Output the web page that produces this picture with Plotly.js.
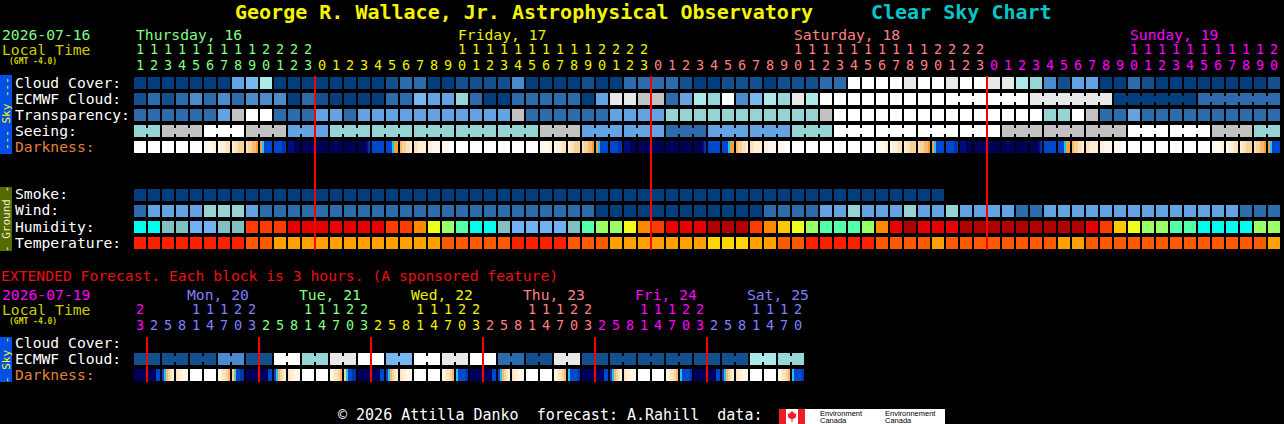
<!DOCTYPE html>
<html><head><meta charset="utf-8">
<script src="https://cdn.plot.ly/plotly-3.0.1.min.js"></script>
<style>html,body{margin:0;padding:0;background:#000;}#chart{width:1284px;height:424px;}</style>
</head><body><div id="chart"></div>
<script>
// ================= DATA =================
const siteTitle = "George R. Wallace, Jr. Astrophysical Observatory";
const chartName = "Clear Sky Chart";
const mainDate = "2026-07-16";
const extDate = "2026-07-19";
const tzLabel = "(GMT -4.0)";
const extNote = "EXTENDED Forecast. Each block is 3 hours. (A sponsored feature)";
const footerText = "\u00a9 2026 Attilla Danko  forecast: A.Rahill  data:";

const mainDays = ["Thursday, 16", "Friday, 17", "Saturday, 18", "Sunday, 19"];
const dayColors = ["#80ff80", "#f0f000", "#ff8080", "#ff00ff", "#8080ff", "#80ff80", "#f0f000", "#ff8080", "#ff00ff", "#8080ff"];
const mainHours = [11,12,13,14,15,16,17,18,19,20,21,22,23,
  0,1,2,3,4,5,6,7,8,9,10,11,12,13,14,15,16,17,18,19,20,21,22,23,
  0,1,2,3,4,5,6,7,8,9,10,11,12,13,14,15,16,17,18,19,20,21,22,23,
  0,1,2,3,4,5,6,7,8,9,10,11,12,13,14,15,16,17,18,19,20];

// cloud cover %, one per hour
const cloudCover = [0,0,0,0,0,0,0,40,50,70,0,0,0,0,0,0,0,0,10,20,20,
  0,0,10,10,10,10,30,0,0,0,0,10,0,0,20,20,20,20,10,0,0,10,10,10,0,10,10,10,20,20,
  100,100,100,100,90,100,100,90,100,100,90,90,70,60,30,10,40,40,0,0,20,10,0,0,0,0,0,0,0,0,10];
// ECMWF cloud %, one per hour
const ecmwfCloud = [10,20,10,20,30,20,30,20,30,30,30,0,20,10,0,0,0,0,20,20,50,
  40,40,60,20,0,0,20,20,20,20,20,0,40,90,90,80,80,20,40,70,60,100,30,50,70,60,90,70,100,100,
  100,100,100,100,100,100,100,100,100,100,100,100,100,90,90,90,90,90,90,0,0,0,0,0,0,20,20,20,20,20,20];
// hours covered by each ECMWF forecast step
const ecmwfRuns = [1,1,1,1,1,1,1,1,1,1,1,1,1,1,1,1,1,1,1,1,1,1,1,1,1,1,1,1,1,1,
  1,1,1,1,1,1,1,1,1,1,1,1,1,1,1,1,1,1,1,1,1,1,1,1,1,1,1,1,3,3,6,6,6];
// transparency: 0 transparent .. 4 poor, 5 too cloudy
const transparency = [1,1,1,1,1,1,2,4,5,5,1,1,1,2,2,1,2,2,2,2,2,
  2,2,2,2,2,2,4,1,1,1,1,1,1,2,2,2,2,3,3,3,3,3,3,3,3,3,3,3,4,5,
  5,5,5,5,5,5,5,5,5,5,5,5,5,5,3,3,5,4,1,1,2,1,1,1,1,1,1,1,1,1,1];
// seeing (5 excellent .. 1 bad, 0 too cloudy), per 3-hour step
const seeing = [2,1,0,1,3,2,2,2,2,2,1,3,3,4,3,3,2,0,0,0,0,1,1,1,0,0,1,2];
const seeingRuns = [2,3,3,3,3,3,3,3,3,3,3,3,3,3,3,3,3,3,3,3,3,3,3,3,3,3,3,2];
// darkness: 6 samples per hour (W day ... N night)
const darkness = [
  "WWWWWW","WWWWWW","WWWWWW","WWWWWW","WWWWWW","aaaaab","abbbcc","bccddd","cddeef","fyBBBB","BBBBCC","nnnNNN","NNNNNN",
  "NNNNNN","NNNNNN","NNNNNN","NNNNnC","BBBBBB","BBByff","eddccb","ccbbbb","bbaaaa","aaaWWW",
  "WWWWWW","WWWWWW","WWWWWW","WWWWWW","WWWWWW","WWWWWW","aaaaab","abbbcc","bccddd","cddeef","fyBBBB","BBBBCC","nnnNNN","NNNNNN",
  "NNNNNN","NNNNNN","NNNNNN","NNNNnC","BBBBBB","BBByff","eddccb","ccbbbb","bbaaaa","aaaWWW",
  "WWWWWW","WWWWWW","WWWWWW","WWWWWW","WWWWWW","WWWWWW","aaaaab","abbbcc","bccddd","cddeef","fyBBBB","BBBBCC","nnnNNN","NNNNNN",
  "NNNNNN","NNNNNN","NNNNNN","NNNNnC","BBBBBB","BBByff","eddccb","ccbbbb","bbaaaa","aaaWWW",
  "WWWWWW","WWWWWW","WWWWWW","WWWWWW","WWWWWW","WWWWWW","aaaaab","abbbcc","bccddd","cddeef","fyBBBB"];
// smoke (ug/m3), forecast only for the first 58 hours
const smoke = [0,0,0,0,0,0,0,0,0,0,0,0,0,0,0,0,0,0,0,0,0,0,0,0,0,0,0,0,0,0,
  0,0,0,0,0,0,0,0,0,0,0,0,0,0,0,0,0,0,0,0,0,0,0,0,0,0,0,0];
// wind mph
const wind = [8,14,14,14,14,20,20,20,14,8,8,8,8,8,8,8,8,8,8,8,8,8,8,8,8,8,8,8,8,8,8,8,8,
  3,3,3,3,3,3,3,3,3,3,3,3,8,8,8,8,14,14,20,14,14,14,20,14,14,20,14,14,14,14,8,8,
  14,14,14,14,14,14,14,14,14,14,14,14,14,14,8,8,8];
// relative humidity %
const humidity = [42,42,37,37,32,32,37,37,75,75,75,85,85,85,85,85,85,85,75,75,67,
  57,52,47,42,42,37,32,32,32,32,37,47,52,52,57,67,75,85,85,85,95,95,95,75,67,62,57,52,47,47,
  47,52,67,85,95,85,85,85,95,95,95,95,95,95,95,95,95,85,75,62,57,52,52,47,47,42,42,42,42,52,52];
// temperature C
const temperature = [29,29,29,29,29,29,29,29,26,26,23,23,23,23,23,23,23,23,23,23,23,
  23,26,26,26,26,26,29,29,29,29,26,26,26,23,23,23,23,23,23,23,20,20,20,23,23,26,26,29,29,29,
  29,29,26,26,26,26,23,26,26,26,26,26,26,26,26,23,23,26,26,26,26,26,26,26,26,26,26,26,26,26,23];

// extended forecast (3-hour blocks)
const extDays = ["Mon, 20", "Tue, 21", "Wed, 22", "Thu, 23", "Fri, 24", "Sat, 25"];
const extHours = [23, 2,5,8,11,14,17,20,23, 2,5,8,11,14,17,20,23, 2,5,8,11,14,17,20,23,
  2,5,8,11,14,17,20,23, 2,5,8,11,14,17,20,23, 2,5,8,11,14,17,20];
const extDayOffset = 3; // first extended column belongs to Sunday (4th day)
// ECMWF cloud %, per 6-hour step (2 blocks each)
const extEcmwf = [10,10,10,30,10,100,60,90,100,50,100,90,100,20,10,90,10,10,10,10,10,10,70,60];
const extDarkness = ["NNNNNN",
  "NNNNBB","Byedcb","cbbaaa","WWWWWW","WWWWWW","abccde","dgBBCC","NNNNNN",
  "NNNNBB","Byedcb","cbbaaa","WWWWWW","WWWWWW","abccde","dyBBCC","NNNNNN",
  "NNNNBB","Byedcb","cbbaaa","WWWWWW","WWWWWW","abccde","yBBBBC","NNNNNN",
  "NNNNBB","Byedcb","cbbaaa","WWWWWW","WWWWWW","abccde","yBBBBC","NNNNNN",
  "NNNNBB","Byedcb","cbbaaa","WWWWWW","WWWWWW","abccde","yBBBBC","NNNNNN",
  "NNNNBB","Byedcb","cbbaaa","WWWWWW","WWWWWW","abccde","yBBBBC"];

// ================= COLOUR SCALES =================
const cloudPal = {0:'#003e7e',10:'#12508f',20:'#2c6cac',30:'#4b8bcb',40:'#63a3e3',50:'#78b8f0',
  60:'#96d6d6',70:'#abeaea',80:'#c2c2c2',90:'#e8e8e8',100:'#ffffff'};
const transPal = ['#003e7e','#2c6cac','#63a3e3','#96d3d3','#c2c2c2','#ffffff'];
const seeingPal = {5:'#003e7e',4:'#2c6cac',3:'#63a3e3',2:'#96d3d3',1:'#c2c2c2',0:'#ffffff'};
const darkPal = {W:'#ffffff',a:'#fff7ec',b:'#ffeed8',c:'#fde2bc',d:'#fbd09a',e:'#f7b86a',f:'#f0a040',
  y:'#20c4f0',g:'#70c0a0',B:'#0048d0',C:'#0034b0',n:'#000c7c',N:'#00005a'};
function windColor(v){ return v<6?'#003e7e':v<12?'#2c6cac':v<17?'#63a3e3':'#96d3d3'; }
function humColor(v){
  if(v<35) return '#72b2f2'; if(v<40) return '#80c0c0'; if(v<45) return '#00ffee';
  if(v<50) return '#55ffaa'; if(v<55) return '#99ff66'; if(v<60) return '#eeff1a';
  if(v<65) return '#ffc800'; if(v<70) return '#ff8800'; if(v<80) return '#ff3a00';
  if(v<90) return '#e80000'; return '#b00000';
}
function tempColor(v){ return v<21.5?'#ffd700':v<24.5?'#ffa000':v<27.5?'#ff5a00':'#ff2000'; }
function smokeColor(v){ return '#003e7e'; }

// ================= BUILD =================
const W = 1284, H = 424;
const px = x => x / W, py = y => 1 - y / H;
const FONT = 'DejaVu Sans Mono';
const FS = 14.7;   // label font size
const DS = 13.5;   // hour digit font size
const TY = -1;     // vertical text nudge
const NC = mainHours.length, NE = extHours.length;

const palette = [];
function ci(c){ if(c==null) return null; let k = palette.indexOf(c); if(k<0){ palette.push(c); k = palette.length-1; } return k; }

function expand(vals, runs){ const out=[]; runs.forEach((L,g)=>{ for(let k=0;k<L;k++) out.push(vals[g]); }); return out; }
const seeingCols = expand(seeing, seeingRuns);
const ecmwfCols = ecmwfCloud;
const extEcmwfCols = expand(extEcmwf, extEcmwf.map(()=>2));

const skyColors = [cloudCover.map(v=>cloudPal[v]), ecmwfCols.map(v=>cloudPal[v]),
  transparency.map(v=>transPal[v]), seeingCols.map(v=>seeingPal[v])];
const groundColors = [
  Array.from({length:NC},(_,i)=> i<smoke.length ? smokeColor(smoke[i]) : null),
  wind.map(windColor), humidity.map(humColor), temperature.map(tempColor)];
const extColors = [Array(NE).fill(null), extEcmwfCols.map(v=>cloudPal[v]), Array(NE).fill(null)];

const skyZ = skyColors.map(r=>r.map(ci));
const groundZ = groundColors.map(r=>r.map(ci));
const extZ = extColors.map(r=>r.map(ci));

function darkRow(codes){
  const xs=[], zs=[];
  codes.forEach((str,i)=>{
    for(let s=0;s<14;s++){
      xs.push(i-0.5+(s+0.5)/14);
      zs.push((s===0||s===13)?null:ci(darkPal[str[Math.floor((s-1)/2)]]));
    }
  });
  return {xs, zs};
}
const dMain = darkRow(darkness), dExt = darkRow(extDarkness);

const N = palette.length;
const colorscale = [];
palette.forEach((c,k)=>{ colorscale.push([k/N,c]); colorscale.push([(k+1)/N,c]); });

const hmBase = {type:'heatmap', colorscale, zmin:-0.5, zmax:N-0.5, showscale:false, hoverinfo:'skip', zsmooth:false};
const traces = [
  Object.assign({}, hmBase, {x:[...Array(NC).keys()], y:[0,1,2,3], z:skyZ, xgap:2, ygap:4, yaxis:'y'}),
  Object.assign({}, hmBase, {x:dMain.xs, y0:4, dy:1, z:[dMain.zs], xgap:0, ygap:4, yaxis:'y'}),
  Object.assign({}, hmBase, {x:[...Array(NC).keys()], y:[0,1,2,3], z:groundZ, xgap:2, ygap:4, yaxis:'y2'}),
  Object.assign({}, hmBase, {x:[...Array(NE).keys()], y:[0,1,2], z:extZ, xgap:2, ygap:4, yaxis:'y3'}),
  Object.assign({}, hmBase, {x:dExt.xs, y0:2, dy:1, z:[dExt.zs], xgap:0, ygap:4, yaxis:'y3'})
];
// connectors for multi-hour forecast steps
function connectors(colors, runs, row, yaxis){
  let s=0;
  runs.forEach(L=>{
    if(L>1) traces.push({type:'scatter', mode:'lines', x:[s, s+L-1], y:[row,row], yaxis,
      line:{color:colors[s], width:6}, hoverinfo:'skip', showlegend:false});
    s+=L;
  });
}
connectors(skyColors[3], seeingRuns, 3, 'y');
connectors(skyColors[1], ecmwfRuns, 1, 'y');
connectors(extColors[1], extEcmwf.map(()=>2), 1, 'y3');

// ================= ANNOTATIONS =================
const ann = [];
function txt(text, x, y, color, size, extra){
  ann.push(Object.assign({text, x:px(x), y:py(y+TY), xref:'paper', yref:'paper', xanchor:'left', yanchor:'middle',
    showarrow:false, borderpad:0, font:{family:FONT, size:size||FS, color}}, extra||{}));
}
function colTxt(text, x, y, color, anchor, xshift, size){
  ann.push({text, x, y:py(y+TY), xref:'x', yref:'paper', xanchor:anchor, xshift:xshift||0, yanchor:'middle',
    showarrow:false, borderpad:0, font:{family:FONT, size:size||FS, color}});
}
ann.push({text:siteTitle, x:px(234), y:py(12), xref:'paper', yref:'paper', xanchor:'left', yanchor:'middle', showarrow:false, borderpad:0,
  font:{family:FONT,size:20,color:'#f5f500',weight:'bold'}});
ann.push({text:chartName, x:px(870), y:py(12), xref:'paper', yref:'paper', xanchor:'left', yanchor:'middle', showarrow:false, borderpad:0,
  font:{family:FONT,size:20,color:'#00c8c8',weight:'bold'}});

// main header
txt(mainDate, 1, 35, dayColors[0]);
txt('Local Time', 1, 50, '#cccc00');
txt(tzLabel, 8, 62, '#cccc00', 8, {font:{family:FONT,size:8,color:'#cccc00',weight:'bold'}});
let day = 0; const colDay = [];
mainHours.forEach((h,i)=>{ if(i>0 && h<mainHours[i-1]) day++; colDay.push(day); });
mainHours.forEach((h,i)=>{
  const c = dayColors[colDay[i]];
  colTxt(String(h%10), i, 65.5, c, 'center', 0, DS);
  if(h>=10) colTxt(String(Math.floor(h/10)), i, 49.5, c, 'center', 0, DS);
});
mainDays.forEach((d,k)=>{
  const cols = colDay.map((v,i)=>v===k?i:-1).filter(i=>i>=0);
  let c = cols.find(i=>mainHours[i]===10); if(c===undefined) c = cols[0];
  colTxt(d, c-0.5, 35, dayColors[k], 'left', 2);
});
// row labels
[['Cloud Cover:',83,'#ffffff'],['ECMWF Cloud:',99,'#ffffff'],['Transparency:',115,'#ffffff'],['Seeing:',131,'#ffffff'],['Darkness:',147,'#e0803c'],
 ['Smoke:',195,'#ffffff'],['Wind:',211,'#ffffff'],['Humidity:',227,'#ffffff'],['Temperature:',243,'#ffffff'],
 ['Cloud Cover:',343,'#ffffff'],['ECMWF Cloud:',359,'#ffffff'],['Darkness:',375,'#e0803c']].forEach(r=>txt(r[0],14,r[1],r[2]));

// extended header
txt(extNote, 0, 276, '#ee1010');
txt(extDate, 1, 295, dayColors[extDayOffset]);
txt('Local Time', 1, 310, '#cccc00');
txt(tzLabel, 8, 322, '#cccc00', 8, {font:{family:FONT,size:8,color:'#cccc00',weight:'bold'}});
let ed = extDayOffset; const extColDay = [];
extHours.forEach((h,j)=>{ if(j>0 && h<extHours[j-1]) ed++; extColDay.push(ed); });
extHours.forEach((h,j)=>{
  const c = dayColors[extColDay[j]];
  colTxt(String(h%10), j, 325.5, c, 'center', 0, DS);
  if(h>=10) colTxt(String(Math.floor(h/10)), j, 309.5, c, 'center', 0, DS);
});
extDays.forEach((d,k)=>{
  const dd = extDayOffset+1+k;
  const j = extHours.findIndex((h,i)=>extColDay[i]===dd && h===11);
  colTxt(d, j-0.5, 295, dayColors[dd], 'left', -3);
});

// side bar texts
function sideTxt(text, y, color){
  ann.push({text, x:px(6), y:py(y), xref:'paper', yref:'paper', xanchor:'center', yanchor:'middle', textangle:-90,
    showarrow:false, borderpad:0, font:{family:FONT,size:11,color}});
}
sideTxt('--- Sky ---', 114, '#ffff00');
sideTxt('- Ground -', 219, '#f0f0d0');
sideTxt('- Sky -', 360, '#ffff00');

// footer
txt(footerText, 337, 416, '#ffffff', 15);
[['Environment',819,413],['Canada',819,420],['Environnement',884,413],['Canada',884,420]].forEach(t=>
  ann.push({text:t[0], x:px(t[1]), y:py(t[2]), xref:'paper', yref:'paper', xanchor:'left', yanchor:'middle', showarrow:false, borderpad:0,
    font:{family:'Liberation Sans',size:7.5,color:'#000000'}}));

// ================= SHAPES =================
const shapes = [];
function rect(x0,y0,x1,y1,color){ shapes.push({type:'rect', xref:'paper', yref:'paper', x0:px(x0), x1:px(x1), y0:py(y1), y1:py(y0), fillcolor:color, line:{width:0}, layer:'below'}); }
rect(0,75,12,154,'#0050e6');
rect(0,187,12,251,'#556b00');
rect(0,337,12,382,'#0050e6');
rect(779,409,945,424,'#ffffff');
rect(779,409,786,424,'#ee1c24');
rect(798,409,805,424,'#ee1c24');
shapes.push({type:'path', xref:'paper', yref:'paper', layer:'above', fillcolor:'#ee1c24', line:{width:0},
  path:`M ${px(792)} ${py(411)} L ${px(795)} ${py(414)} L ${px(796.5)} ${py(413.5)} L ${px(795.5)} ${py(418)} L ${px(792.5)} ${py(419)} L ${px(792.5)} ${py(422)} L ${px(791.5)} ${py(422)} L ${px(791.5)} ${py(419)} L ${px(788.5)} ${py(418)} L ${px(787.5)} ${py(413.5)} L ${px(789)} ${py(414)} Z`});
// midnight lines
mainHours.forEach((h,i)=>{ if(i>0 && h<mainHours[i-1]) shapes.push({type:'line', xref:'x', yref:'paper', x0:i-0.5, x1:i-0.5, y0:py(250), y1:py(76), line:{color:'#ff0000', width:2}, layer:'above'}); });
extHours.forEach((h,j)=>{ if(j>0 && h<extHours[j-1]) shapes.push({type:'line', xref:'x', yref:'paper', x0:j-0.5, x1:j-0.5, y0:py(382), y1:py(337), line:{color:'#ff0000', width:2}, layer:'above'}); });

const axOff = {visible:false, showgrid:false, zeroline:false, fixedrange:true};
const layout = {
  width:W, height:H, margin:{l:0,r:0,t:0,b:0,pad:0},
  paper_bgcolor:'#000000', plot_bgcolor:'rgba(0,0,0,0)', showlegend:false,
  xaxis:Object.assign({}, axOff, {domain:[0,1], range:[-10, (W-140)/14]}),
  yaxis:Object.assign({}, axOff, {domain:[py(155), py(75)], range:[4.5,-0.5]}),
  yaxis2:Object.assign({}, axOff, {domain:[py(251), py(187)], range:[3.5,-0.5]}),
  yaxis3:Object.assign({}, axOff, {domain:[py(383), py(335)], range:[2.5,-0.5]}),
  annotations:ann, shapes
};
Plotly.newPlot('chart', traces, layout, {staticPlot:true, displayModeBar:false});
</script></body></html>
